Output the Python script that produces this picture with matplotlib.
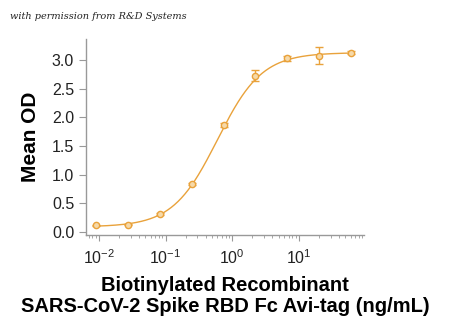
import matplotlib
matplotlib.use("Agg")
import matplotlib.pyplot as plt
import matplotlib.ticker as ticker
import numpy as np

plt.rcParams['font.family'] = ['Liberation Sans', 'DejaVu Sans']
plt.rcParams['mathtext.fontset'] = 'custom'
plt.rcParams['mathtext.rm'] = 'Liberation Sans'

# concentrations (ng/mL), 3-fold dilution series
conc = [0.00914, 0.0274, 0.0823, 0.247, 0.741, 2.22, 6.67, 20.0, 60.0]
mean_od = [0.12, 0.13, 0.31, 0.84, 1.87, 2.73, 3.03, 3.08, 3.13]
err = [0.01, 0.01, 0.02, 0.02, 0.03, 0.09, 0.04, 0.14, 0.02]

# 4PL fit parameters
bottom, top, ec50, hill = 0.09, 3.13, 0.6, 1.3

color = "#E9A23B"

fig = plt.figure(figsize=(4.5, 3.24), dpi=100)
ax = fig.add_axes([0.191, 0.275, 0.618, 0.605])

xs = np.logspace(np.log10(conc[0]), np.log10(conc[-1]), 300)
fit = bottom + (top - bottom) / (1 + (ec50 / xs) ** hill)
ax.plot(xs, fit, color=color, lw=1.0)
ax.errorbar(conc, mean_od, yerr=err, fmt='o', ms=4.5, mfc="#F6D9A8", mec=color,
            mew=1.0, ecolor=color, elinewidth=1.0, capsize=3, capthick=1.0)

ax.set_xscale('log')
ax.set_xlim(0.0064, 95)
ax.set_ylim(-0.05, 3.37)
ax.set_yticks([0.0, 0.5, 1.0, 1.5, 2.0, 2.5, 3.0])
ax.yaxis.set_major_formatter(ticker.FormatStrFormatter('%.1f'))
ax.xaxis.set_major_locator(ticker.LogLocator(base=10, numticks=10))
ax.xaxis.set_minor_locator(ticker.LogLocator(base=10, subs=np.arange(2, 10), numticks=20))
ax.xaxis.set_minor_formatter(ticker.NullFormatter())

for s in ['top', 'right']:
    ax.spines[s].set_visible(False)
for s in ['left', 'bottom']:
    ax.spines[s].set_color('#999999')
    ax.spines[s].set_linewidth(1.0)

ax.tick_params(axis='both', colors='#999999', labelcolor='#222222', labelsize=11.5, length=5)
ax.tick_params(axis='x', which='major', length=4, pad=6)
ax.tick_params(axis='x', which='minor', length=2, color='#999999')

ax.set_ylabel("Mean OD", fontsize=15, fontweight='bold')
ax.yaxis.set_label_coords(-0.165, 0.5)

fig.text(0.5, 0.086, "Biotinylated Recombinant\nSARS-CoV-2 Spike RBD Fc Avi-tag (ng/mL)",
         ha='center', va='center', fontsize=14.5, fontweight='bold', linespacing=1.1)

fig.text(0.022, 0.94, "with permission from R&D Systems", fontsize=7,
         family='DejaVu Serif', style='italic', color='#222222')

fig.savefig("out.png", dpi=100)
